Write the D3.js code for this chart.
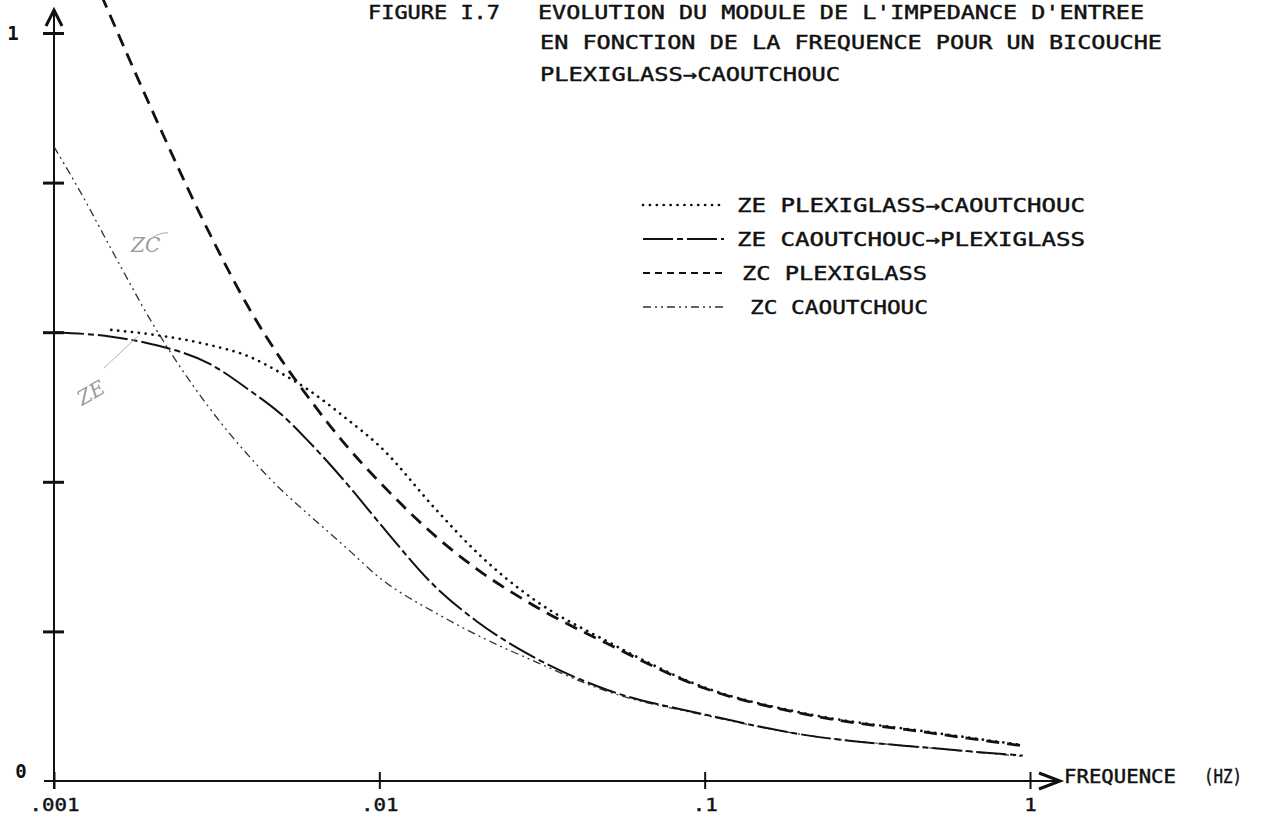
<!DOCTYPE html>
<html>
<head>
<meta charset="utf-8">
<script src="https://cdn.jsdelivr.net/npm/d3@7/dist/d3.min.js"></script>
<style>
	body { margin: 0; background: #fff; }
	svg { display: block; }
</style>
</head>
<body>
<div id="chart"></div>
<script>
// values (frequency in Hz, modulus normalised to 1)
var freqZePC = [0.0015, 0.002, 0.003, 0.004, 0.005, 0.006, 0.008, 0.01, 0.015, 0.02, 0.03, 0.05, 0.1, 0.2, 0.5, 0.95];
var zePlexiCaout = [0.603, 0.597, 0.583, 0.567, 0.545, 0.524, 0.483, 0.448, 0.362, 0.305, 0.242, 0.187, 0.125, 0.091, 0.065, 0.048];

var freqZeCP = [0.001, 0.0015, 0.002, 0.003, 0.004, 0.005, 0.006, 0.008, 0.01, 0.015, 0.02, 0.03, 0.05, 0.1, 0.2, 0.5, 0.95];
var zeCaoutPlexi = [0.600, 0.594, 0.584, 0.558, 0.522, 0.490, 0.456, 0.396, 0.345, 0.258, 0.213, 0.165, 0.122, 0.089, 0.062, 0.044, 0.034];

var freqZcP = [0.0014, 0.0015, 0.002, 0.003, 0.004, 0.005, 0.006, 0.008, 0.01, 0.015, 0.02, 0.03, 0.05, 0.1, 0.2, 0.5, 0.95];
var zcPlexi = [1.05, 1.02, 0.897, 0.733, 0.630, 0.563, 0.515, 0.446, 0.400, 0.326, 0.283, 0.234, 0.184, 0.124, 0.090, 0.064, 0.047];

var freqZcC = [0.001, 0.0012, 0.0015, 0.002, 0.003, 0.004, 0.005, 0.006, 0.008, 0.01, 0.015, 0.02, 0.03, 0.05, 0.1, 0.2, 0.5, 0.95];
var zcCaout = [0.848, 0.789, 0.711, 0.613, 0.499, 0.433, 0.389, 0.358, 0.310, 0.272, 0.224, 0.195, 0.160, 0.120, 0.088, 0.062, 0.044, 0.033];

var xTickValues = [0.001, 0.01, 0.1, 1];
var xTickLabels = ['.001', '.01', '.1', '1'];
var yTickValues = [0.2, 0.4, 0.6, 0.8, 1];
var yLabelValues = [0, 1];
var yLabelText = ['0', '1'];

var legendNames = [
	'ZE PLEXIGLASS\u2192CAOUTCHOUC',
	'ZE CAOUTCHOUC\u2192PLEXIGLASS',
	'ZC PLEXIGLASS',
	'ZC CAOUTCHOUC'
];

var w = 1277;
var h = 818;
var font = "'DejaVu Sans Mono', monospace";
var ink = '#111';

var svg = d3.select('#chart').append('svg').attr('width', w).attr('height', h);

var xScale = d3.scaleLog().domain([0.001, 1]).range([54, 1030]);
var yScale = d3.scaleLinear().domain([0, 1]).range([781, 33]);

// plotter style text, stretched to the pen's letter pitch
var plotText = function(x, y, str, len, size, anchor) {
	return svg
		.append('text')
		.attr('x', x)
		.attr('y', y)
		.attr('font-family', font)
		.attr('font-size', size)
		.attr('textLength', len)
		.attr('lengthAdjust', 'spacingAndGlyphs')
		.attr('text-anchor', anchor || 'start')
		.attr('fill', ink)
		.attr('stroke', ink)
		.attr('stroke-width', 0.45)
		.text(str);
};

// title
plotText(368, 19, 'FIGURE I.7', 132, 19);
plotText(538, 19, "EVOLUTION DU MODULE DE L'IMPEDANCE D'ENTREE", 606, 19);
plotText(540, 49, 'EN FONCTION DE LA FREQUENCE POUR UN BICOUCHE', 622, 19);
plotText(540, 81, 'PLEXIGLASS\u2192CAOUTCHOUC', 300, 19);

// axes
var x0 = xScale.range()[0];
var x1 = xScale.range()[1];
var y0 = yScale(0);

svg.append('line').attr('x1', x0 - 10).attr('x2', x1 + 28).attr('y1', y0).attr('y2', y0)
	.attr('stroke', ink).attr('stroke-width', 2.2);
svg.append('path')
	.attr('d', 'M' + (x1 + 9) + ',' + (y0 - 8) + 'L' + (x1 + 30) + ',' + y0 + 'L' + (x1 + 9) + ',' + (y0 + 8))
	.attr('fill', 'none').attr('stroke', ink).attr('stroke-width', 3);

svg.append('line').attr('x1', x0).attr('x2', x0).attr('y1', y0 + 8).attr('y2', 10)
	.attr('stroke', ink).attr('stroke-width', 2);
svg.append('path')
	.attr('d', 'M' + (x0 - 8) + ',26L' + x0 + ',10L' + (x0 + 8) + ',26')
	.attr('fill', 'none').attr('stroke', ink).attr('stroke-width', 3);

var xAxis = d3.axisBottom(xScale).tickValues(xTickValues).tickSize(8).tickSizeOuter(0)
	.tickFormat(function(d, i) { return xTickLabels[i]; });
var gx = svg.append('g').attr('transform', 'translate(0,' + y0 + ')').call(xAxis);
gx.select('.domain').remove();
gx.selectAll('.tick line').attr('y1', -9).attr('stroke', ink).attr('stroke-width', 2);
gx.selectAll('.tick text')
	.attr('y', 30).attr('dy', null)
	.attr('font-family', font).attr('font-size', 18).attr('fill', ink)
	.attr('stroke', ink).attr('stroke-width', 0.45)
	.attr('textLength', function(d, i) { return xTickLabels[i].length * 12.5; })
	.attr('lengthAdjust', 'spacingAndGlyphs');

var yAxis = d3.axisLeft(yScale).tickValues(yTickValues).tickSize(11).tickSizeOuter(0).tickFormat('');
var gy = svg.append('g').attr('transform', 'translate(' + x0 + ',0)').call(yAxis);
gy.select('.domain').remove();
gy.selectAll('.tick line').attr('x1', 10).attr('stroke', ink).attr('stroke-width', 3);

svg.selectAll('.ylab')
	.data(yLabelValues)
	.enter()
	.append('text')
	.attr('class', 'ylab')
	.attr('x', function(d) { return d === 0 ? 21 : 13; })
	.attr('y', function(d) { return d === 0 ? yScale(d) - 3 : yScale(d) + 7; })
	.attr('text-anchor', 'middle')
	.attr('font-family', font)
	.attr('font-size', 19)
	.attr('font-weight', 'bold')
	.attr('fill', ink)
	.text(function(d, i) { return yLabelText[i]; });

plotText(1064, 783, 'FREQUENCE', 112, 19);
plotText(1204, 783, '(HZ)', 38, 19);

// curves
var zip = function(fs, vs) {
	return fs.map(function(f, i) { return [f, vs[i]]; });
};

var series = [
	{ data: zip(freqZcC, zcCaout), width: 1.3, dash: '8 4 2 4 2 4', color: '#333', cap: 'butt' },
	{ data: zip(freqZcP, zcPlexi), width: 2.8, dash: '13 8', color: ink, cap: 'butt' },
	{ data: zip(freqZeCP, zeCaoutPlexi), width: 2, dash: '30 4 6 4', color: ink, cap: 'butt' },
	{ data: zip(freqZePC, zePlexiCaout), width: 2.7, dash: '0.1 6.8', color: ink, cap: 'round' }
];

var line = d3.line()
	.x(function(d) { return xScale(d[0]); })
	.y(function(d) { return yScale(d[1]); })
	.curve(d3.curveMonotoneX);

svg.selectAll('.curve')
	.data(series)
	.enter()
	.append('path')
	.attr('class', 'curve')
	.attr('d', function(d) { return line(d.data); })
	.attr('fill', 'none')
	.attr('stroke', function(d) { return d.color; })
	.attr('stroke-width', function(d) { return d.width; })
	.attr('stroke-dasharray', function(d) { return d.dash; })
	.attr('stroke-linecap', function(d) { return d.cap; });

// legend (same order as the names)
var legendStyle = [series[3], series[2], series[1], series[0]];
var legendY = [205, 239, 273, 307];
var legendTextX = [737, 737, 742, 750];
var legendLen = [348, 348, 185, 178];

legendNames.forEach(function(name, i) {
	var s = legendStyle[i];
	svg.append('line')
		.attr('x1', 643).attr('x2', 724)
		.attr('y1', legendY[i]).attr('y2', legendY[i])
		.attr('stroke', s.color)
		.attr('stroke-width', i === 2 ? 2 : s.width)
		.attr('stroke-dasharray', i === 2 ? '7 5' : s.dash)
		.attr('stroke-linecap', s.cap);
	plotText(legendTextX[i], legendY[i] + 7, name, legendLen[i], 19);
});

// pencil notes added by hand on the print
var pencil = svg.append('g').attr('fill', '#9a9a9a').attr('font-family', "'DejaVu Serif', serif").attr('font-style', 'italic');
pencil.append('text').attr('x', 131).attr('y', 252).attr('font-size', 20).text('ZC');
pencil.append('path').attr('d', 'M152,238 Q160,232 168,233').attr('fill', 'none').attr('stroke', '#aaa').attr('stroke-width', 1);
pencil.append('text').attr('transform', 'translate(82,406) rotate(-30)').attr('font-size', 20).text('ZE');
pencil.append('line').attr('x1', 104).attr('y1', 368).attr('x2', 138).attr('y2', 336).attr('stroke', '#b5b5b5').attr('stroke-width', 1);
</script>
</body>
</html>
